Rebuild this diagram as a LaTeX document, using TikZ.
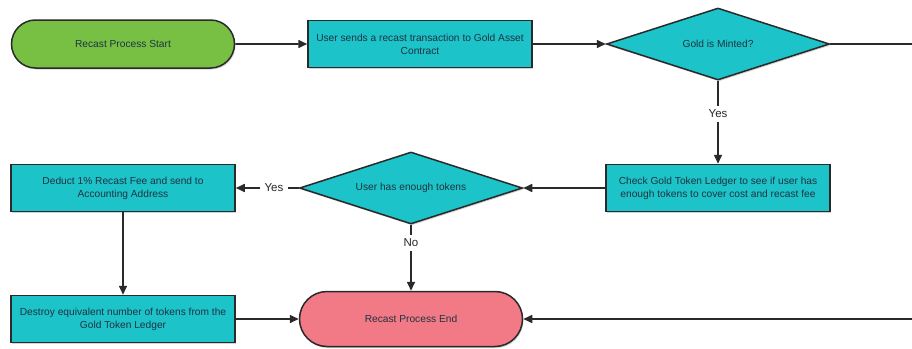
\documentclass[tikz,border=0pt]{standalone}
\usepackage{fontspec}
\setmainfont{Liberation Sans}
\usetikzlibrary{arrows.meta,shapes.geometric,shapes.misc,shadows}
\definecolor{gfill}{HTML}{77C043}
\definecolor{cfill}{HTML}{1CC3C8}
\definecolor{pfill}{HTML}{F27A87}
\definecolor{edge}{HTML}{2A2A2A}
\definecolor{txt}{HTML}{1E3340}
\tikzset{
 base/.style={draw=edge, line width=1.5pt, text=txt, font=\fontsize{10.2}{13}\selectfont, align=center, drop shadow={shadow xshift=1pt, shadow yshift=-1.5pt, opacity=0.35}},
 term/.style={base, rounded rectangle, minimum width=223pt, inner sep=0pt},
 proc/.style={base, rectangle, fill=cfill, minimum width=224pt, minimum height=47pt, inner sep=0pt},
 dec/.style={base, diamond, fill=cfill, aspect=3.1, minimum width=223pt, minimum height=72pt, inner sep=0pt},
 conn/.style={draw=edge, line width=1.6pt},
 arr/.style={conn, -{Triangle[length=9pt,width=8pt]}},
 lbl/.style={font=\fontsize{11.5}{13}\selectfont, text=black!85, inner sep=4pt},
}
\begin{document}
\begin{tikzpicture}[x=1pt,y=-1pt]
\useasboundingbox (0,0) rectangle (912,348);
\clip (0,0) rectangle (912,348);
\node[term, fill=gfill, minimum height=48pt] (start) at (123,44) {Recast Process Start};
\node[proc] (send) at (420,44) {User sends a recast transaction to Gold Asset\\Contract};
\node[dec] (mint) at (718,44) {Gold is Minted?};
\node[lbl] (yes1) at (718,114) {Yes};
\node[proc] (check) at (718,188) {Check Gold Token Ledger to see if user has\\enough tokens to cover cost and recast fee};
\node[dec] (enough) at (411,188) {User has enough tokens};
\node[lbl] (yes2) at (274,188) {Yes};
\node[proc] (deduct) at (123,188) {Deduct 1\% Recast Fee and send to\\Accounting Address};
\node[lbl] (no) at (411,243) {No};
\node[term, fill=pfill, minimum height=55pt] (end) at (411,319) {Recast Process End};
\node[proc] (destroy) at (123,319) {Destroy equivalent number of tokens from the\\Gold Token Ledger};
\coordinate (re1) at (916,44);
\coordinate (re2) at (916,319);
\draw[arr] (start) -- (send);
\draw[arr] (send) -- (mint);
\draw[conn] (mint.east) -- (re1) -- (re2);
\draw[arr] (re2) -- (end);
\draw[conn] (mint.south) -- (yes1);
\draw[arr] (yes1) -- (check);
\draw[arr] (check) -- (enough);
\draw[conn] (enough.west) -- (yes2);
\draw[arr] (yes2) -- (deduct);
\draw[conn] (enough.south) -- (no);
\draw[arr] (no) -- (end);
\draw[arr] (deduct) -- (destroy);
\draw[arr] (destroy) -- (end);
\end{tikzpicture}
\end{document}
